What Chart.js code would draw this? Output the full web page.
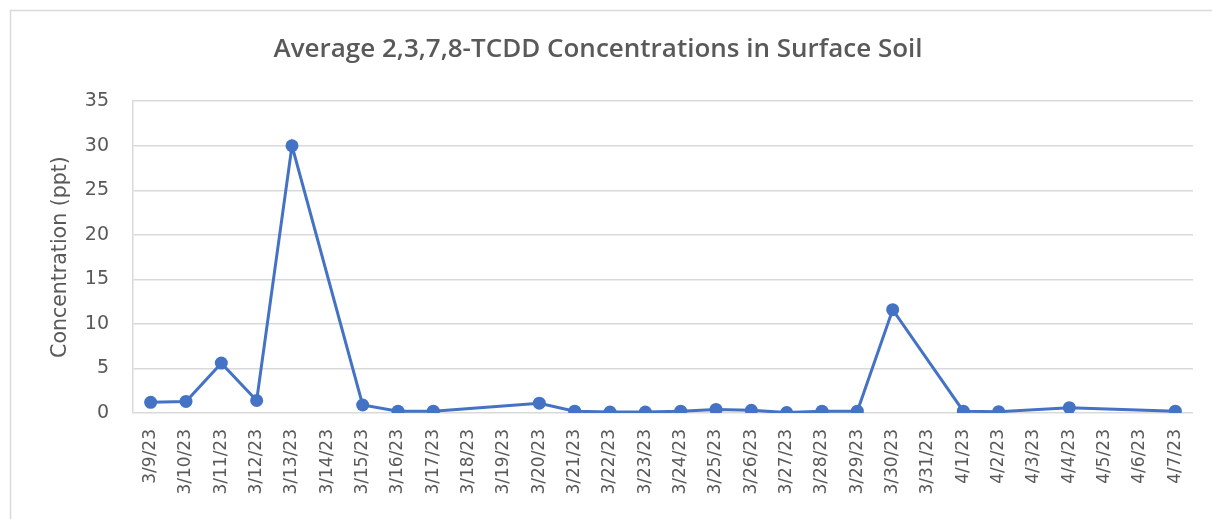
<!DOCTYPE html>
<html>
<head>
<meta charset="utf-8">
<title>Average 2,3,7,8-TCDD Concentrations in Surface Soil</title>
<script src="https://cdn.jsdelivr.net/npm/chart.js@4/dist/chart.umd.min.js"></script>
<style>
  html, body { margin: 0; padding: 0; background: #ffffff; }
  #wrap { position: relative; width: 1212px; height: 519px; }
</style>
</head>
<body>
<div id="wrap"><canvas id="chart" width="1212" height="519"></canvas></div>
<script>
// Sampling dates (every day from 3/9/23 to 4/7/23)
const sampleDates = [
  '3/9/23', '3/10/23', '3/11/23', '3/12/23', '3/13/23', '3/14/23', '3/15/23',
  '3/16/23', '3/17/23', '3/18/23', '3/19/23', '3/20/23', '3/21/23', '3/22/23',
  '3/23/23', '3/24/23', '3/25/23', '3/26/23', '3/27/23', '3/28/23', '3/29/23',
  '3/30/23', '3/31/23', '4/1/23', '4/2/23', '4/3/23', '4/4/23', '4/5/23',
  '4/6/23', '4/7/23'
];

// Average 2,3,7,8-TCDD concentration (ppt); null = no sample that day
const avgTcdd = [
  1.2, 1.3, 5.6, 1.4, 30.0, null, 0.9,
  0.2, 0.2, null, null, 1.1, 0.2, 0.1,
  0.1, 0.2, 0.4, 0.3, 0.05, 0.2, 0.2,
  11.6, null, 0.2, 0.15, null, 0.6, null,
  null, 0.2
];

// Value axis ticks
const yTicks = [0, 5, 10, 15, 20, 25, 30, 35];

const textGray = '#595959';
const gridGray = '#d9d9d9';
const seriesBlue = '#4472c4';

// Light frame around the chart, plus a white background
const framePlugin = {
  id: 'frame',
  beforeDraw(chart) {
    const ctx = chart.ctx;
    ctx.save();
    ctx.fillStyle = '#ffffff';
    ctx.fillRect(0, 0, chart.width, chart.height);
    ctx.strokeStyle = '#d9d9d9';
    ctx.lineWidth = 1.5;
    ctx.beginPath();
    ctx.moveTo(10.5, chart.height);
    ctx.lineTo(10.5, 10.5);
    ctx.lineTo(chart.width, 10.5);
    ctx.stroke();
    ctx.restore();
  }
};

new Chart(document.getElementById('chart'), {
  type: 'line',
  data: {
    labels: sampleDates,
    datasets: [{
      label: 'Average 2,3,7,8-TCDD',
      data: avgTcdd,
      borderColor: seriesBlue,
      backgroundColor: seriesBlue,
      borderWidth: 3,
      pointRadius: 6.5,
      pointHoverRadius: 6.5,
      pointBorderWidth: 0,
      pointBackgroundColor: seriesBlue,
      spanGaps: true,
      tension: 0
    }]
  },
  options: {
    responsive: false,
    animation: false,
    layout: { padding: { left: 0, right: 16, top: 0, bottom: 0 } },
    plugins: {
      legend: { display: false },
      tooltip: { enabled: false },
      title: {
        display: true,
        text: 'Average 2,3,7,8-TCDD Concentrations in Surface Soil',
        color: textGray,
        font: { family: 'Open Sans', size: 26, weight: '600', lineHeight: 1.2 },
        padding: { top: 34, bottom: 36 }
      }
    },
    scales: {
      x: {
        offset: true,
        grid: { display: false, drawTicks: false },
        border: { display: false },
        ticks: {
          color: textGray,
          font: { family: 'DejaVu Sans', size: 17 },
          minRotation: 90,
          maxRotation: 90,
          autoSkip: false,
          padding: 16
        },
        afterFit(scale) { scale.height = 106; }
      },
      y: {
        min: 0,
        max: 35,
        afterBuildTicks(scale) { scale.ticks = yTicks.map(v => ({ value: v })); },
        grid: { color: gridGray, lineWidth: 1.5, drawTicks: false },
        border: { display: true, color: gridGray, width: 1.5 },
        ticks: {
          color: textGray,
          font: { family: 'DejaVu Sans', size: 19 },
          padding: 24
        },
        title: {
          display: true,
          text: 'Concentration (ppt)',
          color: textGray,
          font: { family: 'DejaVu Sans', size: 20.5, lineHeight: 1.2 },
          padding: { top: 48, bottom: 0 }
        },
        afterFit(scale) { scale.width = 133; }
      }
    }
  },
  plugins: [framePlugin]
});
</script>
</body>
</html>
